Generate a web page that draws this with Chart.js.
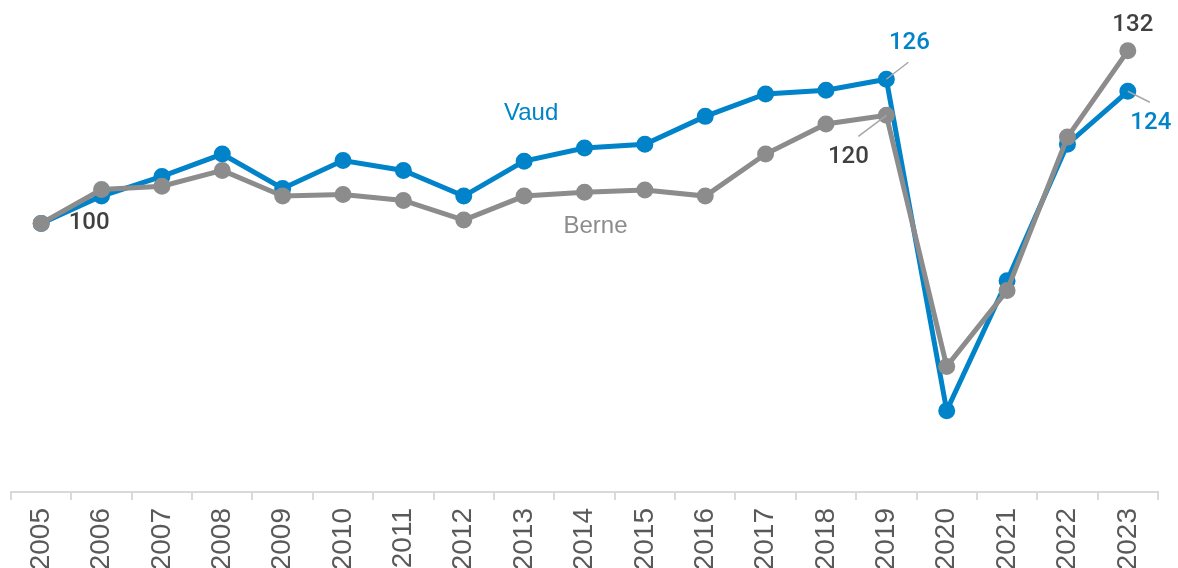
<!DOCTYPE html>
<html>
<head>
<meta charset="utf-8">
<script src="https://cdn.jsdelivr.net/npm/chart.js@4.4.1/dist/chart.umd.min.js"></script>
<style>
    body { margin: 0; background: #fff; }
    #wrap { width: 1178px; height: 568px; position: relative; }
</style>
</head>
<body>
<div id="wrap"><canvas id="grafico"></canvas></div>
<script>
// indice 2005 = 100
const annees = ['2005', '2006', '2007', '2008', '2009', '2010', '2011', '2012', '2013', '2014',
    '2015', '2016', '2017', '2018', '2019', '2020', '2021', '2022', '2023'];
const vaud = [100, 105, 108.6, 112.7, 106.4, 111.5, 109.7, 105, 111.4, 113.8,
    114.5, 119.6, 123.7, 124.4, 126.4, 65.7, 89.5, 114.5, 124.2];
const berne = [100, 106.2, 106.8, 109.7, 105, 105.3, 104.2, 100.6, 105, 105.7,
    106.1, 105, 112.7, 118.2, 119.8, 73.8, 87.7, 115.8, 131.6];

const bleu = '#0083c9';
const gris = '#8c8c8c';
const texteFonce = '#404040';

// etiquettes: [serie, index, texte, couleur, dx, dy, ligne?]
const etiquettes = [
    [1, 0, '100', texteFonce, 48, 0, false],
    [0, 14, '126', bleu, 23, -36, true],
    [1, 14, '120', texteFonce, -38, 42, true],
    [1, 18, '132', texteFonce, 5, -26, false],
    [0, 18, '124', bleu, 23, 32, true]
];

const pluginEtiquettes = {
    id: 'etiquettes',
    afterDatasetsDraw(chart) {
        const ctx = chart.ctx;
        ctx.save();
        ctx.font = '500 24px Roboto, "Liberation Sans", Arial, sans-serif';
        ctx.textAlign = 'center';
        ctx.textBaseline = 'middle';
        etiquettes.forEach(function (e) {
            const pt = chart.getDatasetMeta(e[0]).data[e[1]];
            const x = pt.x + e[4];
            const y = pt.y + e[5];
            if (e[6]) {
                ctx.strokeStyle = '#a6a6a6';
                ctx.lineWidth = 1.5;
                ctx.beginPath();
                ctx.moveTo(pt.x, pt.y);
                const fx = e[4] > 0 ? x - 1 : x + 10;
                const fy = e[5] > 0 ? y - 21 : y + 19;
                ctx.lineTo(fx, fy);
                ctx.stroke();
            }
            ctx.fillStyle = e[3];
            ctx.fillText(e[2], x, y);
        });
        // noms des series
        ctx.font = '24px "Liberation Sans", Arial, sans-serif';
        const pv = chart.getDatasetMeta(0).data[8];
        ctx.fillStyle = bleu;
        ctx.fillText('Vaud', pv.x + 7, pv.y - 48);
        const pb = chart.getDatasetMeta(1).data[9];
        ctx.fillStyle = gris;
        ctx.fillText('Berne', pb.x + 11, pb.y + 34);
        ctx.restore();
    }
};

new Chart(document.getElementById('grafico'), {
    type: 'line',
    data: {
        labels: annees,
        datasets: [
            {
                label: 'Vaud',
                data: vaud,
                borderColor: bleu,
                backgroundColor: bleu,
                borderWidth: 5,
                pointRadius: 6,
                pointHoverRadius: 6,
                tension: 0,
                order: 1
            },
            {
                label: 'Berne',
                data: berne,
                borderColor: gris,
                backgroundColor: gris,
                borderWidth: 5,
                pointRadius: 6,
                pointHoverRadius: 6,
                tension: 0,
                order: 0
            }
        ]
    },
    options: {
        responsive: true,
        maintainAspectRatio: false,
        animation: false,
        layout: { padding: { left: 10, right: 20, top: 0, bottom: 0 } },
        plugins: {
            legend: { display: false },
            tooltip: { enabled: false }
        },
        scales: {
            y: {
                display: false,
                min: 50.8,
                max: 138.9
            },
            x: {
                offset: true,
                afterFit: function (scale) { scale.height = 76; },
                grid: {
                    offset: true,
                    drawOnChartArea: false,
                    drawTicks: true,
                    tickLength: 8,
                    color: '#d9d9d9',
                    lineWidth: 2
                },
                border: { color: '#d9d9d9', width: 2 },
                ticks: {
                    minRotation: 90,
                    maxRotation: 90,
                    padding: 8,
                    autoSkip: false,
                    color: '#595959',
                    font: { family: '"Liberation Sans", Arial, sans-serif', size: 28 }
                }
            }
        }
    },
    plugins: [pluginEtiquettes]
});
</script>
</body>
</html>
